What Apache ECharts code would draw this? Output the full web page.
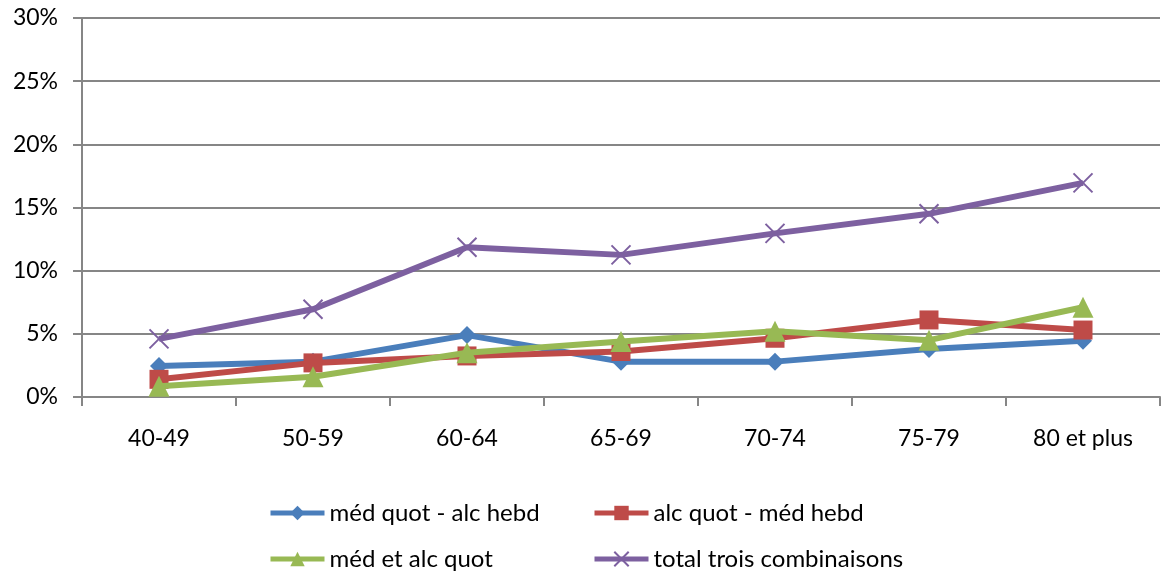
<!DOCTYPE html>
<html>
<head>
<meta charset="utf-8">
<script src="https://cdn.jsdelivr.net/npm/echarts@6/dist/echarts.min.js"></script>
<style>
  html, body { margin: 0; padding: 0; background: #fff; }
  #chart { width: 1161px; height: 571px; }
</style>
</head>
<body>
<div id="chart"></div>
<script>
// Age groups on the x axis
const categories = ['40-49', '50-59', '60-64', '65-69', '70-74', '75-79', '80 et plus'];

// Shares in percent, one array per combination
const medQuotAlcHebd = [2.45, 2.8, 4.9, 2.8, 2.8, 3.8, 4.45];
const alcQuotMedHebd = [1.4, 2.7, 3.25, 3.6, 4.65, 6.1, 5.3];
const medEtAlcQuot = [0.85, 1.6, 3.5, 4.4, 5.2, 4.5, 7.1];
const totalTroisCombinaisons = [4.6, 6.95, 11.85, 11.25, 12.95, 14.5, 16.95];

// Y axis range and step, in percent
const yMin = 0, yMax = 30, yStep = 5;

const seriesNames = ['méd quot - alc hebd', 'alc quot - méd hebd', 'méd et alc quot', 'total trois combinaisons'];

const FONT = 'Lato, "Open Sans", sans-serif';
const crossPath = 'path://M0,0L10,10M10,0L0,10';

const chart = echarts.init(document.getElementById('chart'), null, { renderer: 'canvas' });

function legendAt(name, left, top) {
  return {
    data: [name],
    left: left,
    top: top,
    padding: 0,
    itemWidth: 54,
    itemHeight: 18,
    itemGap: 6,
    lineStyle: { width: 5 },
    textStyle: { fontFamily: FONT, fontSize: 24, color: '#000' },
    selectedMode: false
  };
}

chart.setOption({
  animation: false,
  backgroundColor: '#fff',
  grid: { left: 82, right: 1, top: 18, bottom: 174, containLabel: false },
  legend: [
    legendAt(seriesNames[0], 268, 501),
    legendAt(seriesNames[1], 592, 501),
    legendAt(seriesNames[2], 268, 547),
    legendAt(seriesNames[3], 592, 547)
  ],
  xAxis: {
    type: 'category',
    data: categories,
    boundaryGap: true,
    axisLine: { lineStyle: { color: '#868686', width: 2 } },
    axisTick: { show: true, length: 9, interval: 0, lineStyle: { color: '#868686', width: 2 } },
    axisLabel: { fontFamily: FONT, fontSize: 23, color: '#000', margin: 30, interval: 0 },
    splitLine: { show: false }
  },
  yAxis: {
    type: 'value',
    min: yMin,
    max: yMax,
    interval: yStep,
    axisLine: { show: true, lineStyle: { color: '#868686', width: 2 } },
    axisTick: { show: true, length: 9, lineStyle: { color: '#868686', width: 2 } },
    axisLabel: { fontFamily: FONT, fontSize: 23, color: '#000', margin: 24, formatter: '{value}%' },
    splitLine: { show: true, lineStyle: { color: '#868686', width: 2 } }
  },
  series: [
    {
      name: seriesNames[0], type: 'line', data: medQuotAlcHebd,
      symbol: 'diamond', symbolSize: 18,
      lineStyle: { color: '#4A7EBB', width: 6 },
      itemStyle: { color: '#4A7EBB', borderWidth: 0 },
      z: 3
    },
    {
      name: seriesNames[1], type: 'line', data: alcQuotMedHebd,
      symbol: 'rect', symbolSize: 19,
      lineStyle: { color: '#BE4B48', width: 6 },
      itemStyle: { color: '#BE4B48', borderWidth: 0 },
      z: 4
    },
    {
      name: seriesNames[2], type: 'line', data: medEtAlcQuot,
      symbol: 'triangle', symbolSize: 21,
      lineStyle: { color: '#98B954', width: 6 },
      itemStyle: { color: '#98B954', borderWidth: 0 },
      z: 5
    },
    {
      name: seriesNames[3], type: 'line', data: totalTroisCombinaisons,
      symbol: crossPath, symbolSize: 19,
      lineStyle: { color: '#7D60A0', width: 6 },
      itemStyle: { color: 'none', borderColor: '#7D60A0', borderWidth: 2 },
      z: 6
    }
  ]
});
</script>
</body>
</html>
